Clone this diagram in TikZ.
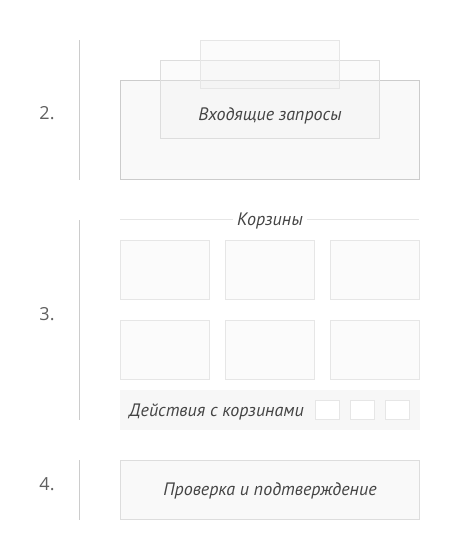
\documentclass[tikz,border=0pt]{standalone}
\usepackage{fontspec}
\setmainfont{PT Sans}
\newfontfamily\numfont{Open Sans}
\usetikzlibrary{positioning}
\definecolor{barline}{HTML}{CCCCCC}
\definecolor{boxline}{HTML}{DDDDDD}
\definecolor{softline}{HTML}{E6E6E6}
\definecolor{boxfill}{HTML}{F9F9F9}
\definecolor{barfill}{HTML}{F7F7F7}
\definecolor{textgray}{HTML}{444444}
\tikzset{
    panel/.style={draw=#1, fill=boxfill, line width=1pt, inner sep=0pt, anchor=north west},
    panel/.default={boxline},
    ghost/.style={draw=#1, fill=black!5, fill opacity=0.3, line width=1pt, inner sep=0pt, anchor=north west},
    basket/.style={panel=softline, fill=boxfill!70!white, minimum width=89pt, minimum height=59pt},
    tool/.style={panel=softline, fill=white, minimum width=24pt, minimum height=19pt},
    caption/.style={font=\itshape\fontsize{18}{21}\selectfont, text=textgray, inner sep=2pt},
    stepnum/.style={font=\numfont\fontsize{18}{20}\selectfont, text=textgray!85, inner sep=0pt},
    stepbar/.style={draw=barline, line width=1pt}
}
\begin{document}
\begin{tikzpicture}[x=1pt, y=-1pt]
    \useasboundingbox (0,0) rectangle (460,560);
    % 2. incoming requests
    \draw[stepbar] (79,40) -- (79,180);
    \node[stepnum] (n2) at (47,113) {2.};
    \node[panel=barline, minimum width=299pt, minimum height=99pt] (inbox) at (120,80) {};
    \node[ghost=boxline, minimum width=219pt, minimum height=78pt] (inmid) at (160,60) {};
    \node[ghost=softline, minimum width=139pt, minimum height=48pt] (intop) at (200,40) {};
    \node[caption] (intext) at (270,116) {Входящие запросы};
    % 3. baskets
    \draw[stepbar] (79,220) -- (79,420);
    \node[stepnum] (n3) at (47,314) {3.};
    \node[caption, inner xsep=4pt] (bhead) at (270,221) {Корзины};
    \coordinate (bl) at (120,219);
    \coordinate (br) at (419,219);
    \draw[softline, line width=1pt] (bl) -- (bl -| bhead.west);
    \draw[softline, line width=1pt] (br -| bhead.east) -- (br);
    \foreach \r in {0,1}{
    \foreach \c in {0,1,2}{
    \node[basket] (b\r\c) at ({120+105*\c},{240+80*\r}) {};}}
    \node[panel=barfill, fill=barfill, minimum width=299pt, minimum height=39pt] (actbar) at (120,390) {};
    \node[caption, anchor=west] (acttext) at (127,412) {Действия с корзинами};
    \foreach \c in {0,1,2}{
    \node[tool] (t\c) at ({315+35*\c},400) {};}
    % 4. check and confirm
    \draw[stepbar] (79,460) -- (79,520);
    \node[stepnum] (n4) at (47,484) {4.};
    \node[panel, minimum width=299pt, minimum height=59pt] (check) at (120,460) {};
    \node[caption] (checktext) at (270,491) {Проверка и подтверждение};
\end{tikzpicture}
\end{document}
